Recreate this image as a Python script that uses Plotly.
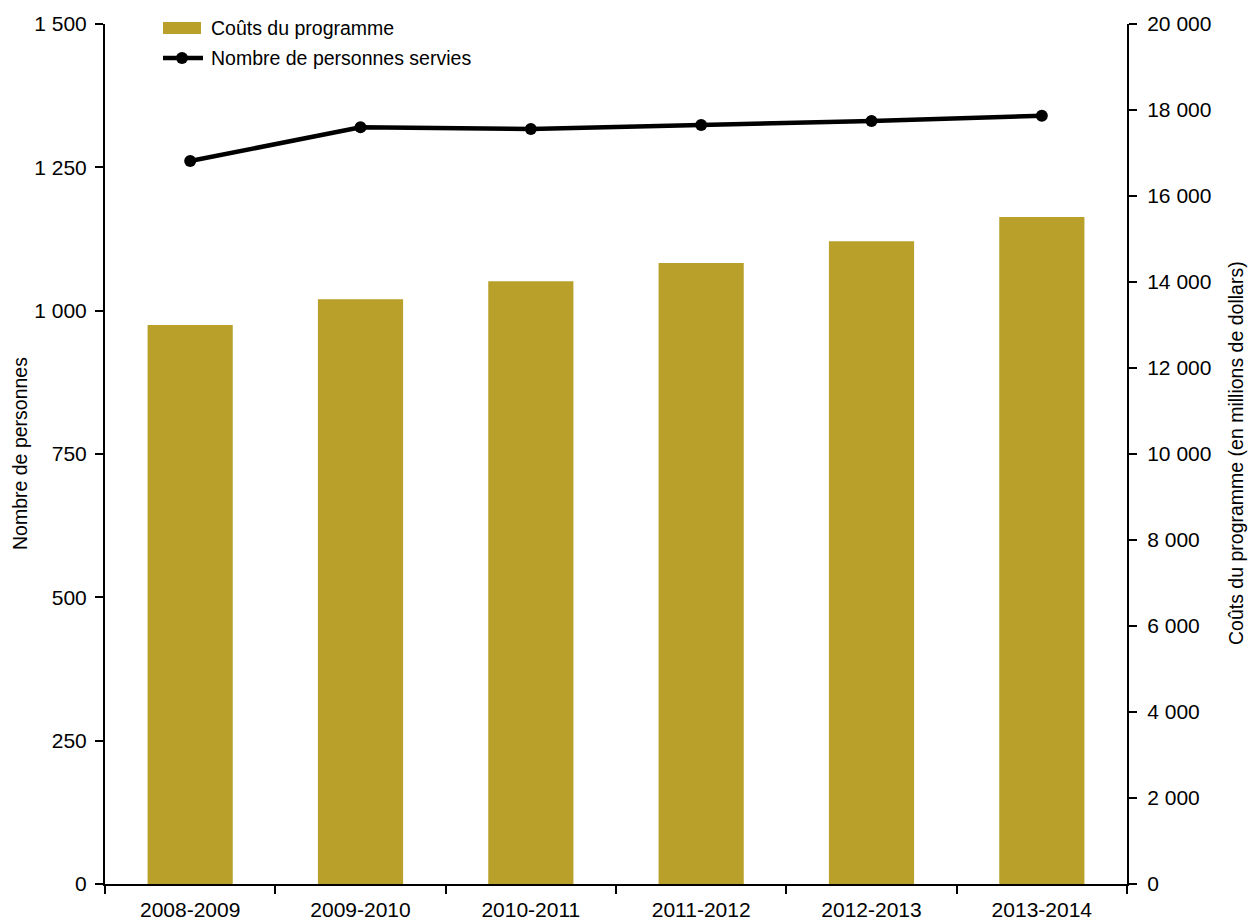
import plotly.graph_objects as go

categories = ["2008-2009", "2009-2010", "2010-2011", "2011-2012", "2012-2013", "2013-2014"]
costs = [13000, 13600, 14020, 14440, 14950, 15510]
persons = [1261, 1320, 1317, 1324, 1331, 1340]

FONT = "Liberation Sans, Arial, sans-serif"
GOLD = "#B8A02A"
FS = 21

FIG_W, FIG_H = 1248, 922
# plot-area geometry in pixels
L, R, T, B = 105, 1127, 24, 884
W, H = R - L, B - T


def px(x):
    return (x - L) / W


def py(y):
    return (B - y) / H


fig = go.Figure()
fig.add_trace(go.Bar(
    x=categories, y=costs, name="Coûts du programme",
    marker=dict(color=GOLD, line=dict(width=0)), width=0.5, yaxis="y",
    showlegend=False,
))
fig.add_trace(go.Scatter(
    x=categories, y=persons, name="Nombre de personnes servies",
    mode="lines+markers", line=dict(color="black", width=4.5),
    marker=dict(color="black", size=12), yaxis="y2", showlegend=False,
))

# manual legend
shapes = [
    dict(type="rect", xref="paper", yref="paper", x0=px(163), x1=px(201),
         y0=py(34), y1=py(22), fillcolor=GOLD, line=dict(width=0)),
    dict(type="line", xref="paper", yref="paper", x0=px(163), x1=px(203),
         y0=py(58), y1=py(58), line=dict(color="black", width=4.5)),
    dict(type="circle", xref="paper", yref="paper", x0=px(176), x1=px(188),
         y0=py(64), y1=py(52), fillcolor="black", line=dict(width=0)),
]
annotations = [
    dict(text="Coûts du programme", xref="paper", yref="paper", x=px(209), y=py(28),
         xanchor="left", yanchor="middle", showarrow=False, font=dict(size=19.5)),
    dict(text="Nombre de personnes servies", xref="paper", yref="paper", x=px(209), y=py(58),
         xanchor="left", yanchor="middle", showarrow=False, font=dict(size=19.5)),
    dict(text="Nombre de personnes", xref="paper", yref="paper", x=px(20), y=py(454),
         xanchor="center", yanchor="middle", textangle=-90, showarrow=False,
         font=dict(size=19.5)),
    dict(text="Coûts du programme (en millions de dollars)", xref="paper", yref="paper",
         x=px(1236), y=py(453), xanchor="center", yanchor="middle", textangle=-90,
         showarrow=False, font=dict(size=19.5)),
]

axis_common = dict(showline=True, linecolor="black", linewidth=2, ticks="outside",
                   ticklen=8, tickwidth=2, tickcolor="black", showgrid=False,
                   zeroline=False, tickfont=dict(size=FS), automargin=False)

fig.update_layout(
    width=FIG_W, height=FIG_H,
    margin=dict(l=L, r=FIG_W - R, t=T, b=FIG_H - B),
    plot_bgcolor="white", paper_bgcolor="white",
    separators=", ",
    font=dict(family=FONT, size=FS, color="black"),
    showlegend=False,
    shapes=shapes, annotations=annotations,
    xaxis=dict(type="category", range=[-0.5, 5.5], tickson="boundaries",
               ticklabelstandoff=6, **axis_common),
    yaxis=dict(side="right", range=[0, 20000], tickvals=list(range(0, 20001, 2000)),
               tickformat=",d", ticklabelstandoff=6, **axis_common),
    yaxis2=dict(side="left", overlaying="y", range=[0, 1500],
                tickvals=list(range(0, 1501, 250)), tickformat=",d",
                ticklabelstandoff=4, **axis_common),
)

fig.write_html(
    "out.html",
    config={"displayModeBar": False},
    post_script="document.body.style.margin='0';document.body.style.overflow='hidden';",
)
